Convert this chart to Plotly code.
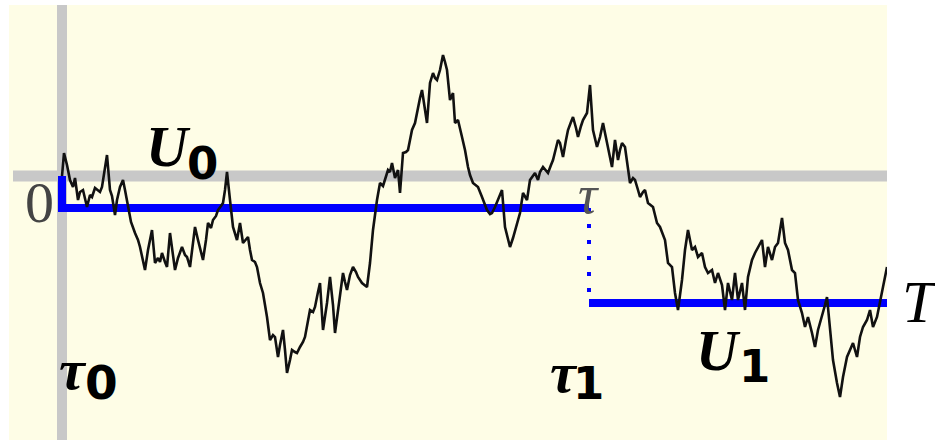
import plotly.graph_objects as go

# Sample path W(t): step index and value
steps = [
    0, 2, 5, 8, 11, 13, 16, 18, 21, 23,
    25, 28, 30, 33, 35, 38, 40, 43, 45, 48,
    50, 53, 55, 58, 61, 63, 66, 69, 73, 76,
    78, 81, 83, 86, 88, 90, 93, 96, 98, 100,
    103, 105, 108, 110, 113, 116, 120, 123, 125, 128,
    131, 133, 136, 138, 141, 144, 146, 149, 151, 154,
    156, 159, 161, 163, 165, 168, 171, 175, 178, 181,
    184, 186, 188, 190, 193, 195, 198, 201, 203, 205,
    208, 211, 213, 216, 218, 221, 223, 225, 228, 230,
    233, 235, 238, 241, 243, 246, 248, 251, 253, 256,
    258, 261, 263, 265, 268, 271, 273, 276, 278, 281,
    283, 285, 288, 291, 294, 296, 300, 303, 305, 308,
    311, 315, 318, 321, 323, 326, 328, 330, 333, 336,
    338, 341, 344, 346, 348, 350, 353, 356, 358, 360,
    363, 365, 368, 371, 373, 375, 378, 381, 383, 385,
    388, 391, 393, 396, 400, 403, 406, 408, 411, 414,
    416, 420, 423, 425, 428, 430, 433, 436, 438, 440,
    443, 446, 448, 451, 453, 456, 458, 461, 463, 465,
    468, 471, 473, 476, 478, 481, 484, 486, 489, 491,
    494, 496, 498, 501, 504, 506, 509, 511, 514, 516,
    519, 521, 525, 528, 531, 533, 535, 538, 541, 543,
    545, 548, 550, 553, 556, 558, 560, 563, 566, 568,
    571, 573, 576, 578, 581, 583, 586, 588, 591, 593,
    595, 598, 601, 603, 606, 610, 613, 616, 620, 623,
    626, 628, 630, 633, 636, 640, 643, 646, 650, 653,
    656, 660, 663, 666, 670, 673, 676, 680, 683, 686,
    690, 693, 696, 700, 703, 706, 710, 713, 716, 720,
    723, 726, 730, 733, 736, 740, 743, 746, 750, 753,
    756, 760, 763, 765, 768, 771, 775, 778, 781, 785,
    788, 791, 795, 798, 801, 805, 808, 811, 815, 818,
    821, 825,
]
values = [
    0.00, 0.23, 0.11, -0.04, -0.11, -0.02, -0.24, -0.16, -0.14, -0.22,
    -0.31, -0.19, -0.21, -0.12, -0.14, -0.16, -0.11, 0.06, 0.21, -0.14,
    -0.20, -0.39, -0.24, -0.11, -0.04, -0.14, -0.31, -0.46, -0.57, -0.64,
    -0.71, -0.86, -0.94, -0.74, -0.64, -0.54, -0.87, -0.82, -0.86, -0.77,
    -0.86, -0.91, -0.57, -0.74, -0.94, -0.82, -0.71, -0.79, -0.81, -0.91,
    -0.69, -0.51, -0.64, -0.71, -0.84, -0.64, -0.47, -0.52, -0.44, -0.40,
    -0.34, -0.30, -0.27, -0.14, 0.04, -0.24, -0.51, -0.64, -0.47, -0.67,
    -0.64, -0.61, -0.74, -0.84, -0.86, -0.91, -1.07, -1.17, -1.29, -1.41,
    -1.64, -1.59, -1.61, -1.81, -1.69, -1.54, -1.74, -1.97, -1.84, -1.74,
    -1.76, -1.77, -1.71, -1.66, -1.61, -1.44, -1.34, -1.36, -1.31, -1.16,
    -1.07, -1.54, -1.42, -1.27, -1.01, -1.29, -1.57, -1.34, -1.17, -0.97,
    -1.06, -1.14, -0.99, -0.91, -0.96, -1.01, -1.07, -1.10, -1.11, -0.87,
    -0.54, -0.24, -0.07, -0.10, -0.04, 0.06, 0.04, 0.13, -0.02, 0.06,
    -0.17, 0.23, 0.24, 0.26, 0.36, 0.46, 0.53, 0.69, 0.78, 0.86,
    0.66, 0.53, 0.93, 1.03, 0.98, 0.96, 1.06, 1.21, 1.14, 1.06,
    0.76, 0.83, 0.53, 0.56, 0.39, 0.26, 0.09, 0.01, -0.07, -0.09,
    -0.11, -0.21, -0.29, -0.34, -0.38, -0.37, -0.31, -0.24, -0.19, -0.14,
    -0.51, -0.64, -0.71, -0.62, -0.54, -0.44, -0.37, -0.17, -0.21, -0.24,
    -0.04, 0.00, 0.03, -0.04, 0.04, 0.09, 0.06, 0.03, 0.11, 0.16,
    0.28, 0.36, 0.33, 0.19, 0.36, 0.46, 0.54, 0.59, 0.48, 0.39,
    0.50, 0.56, 0.63, 0.91, 0.46, 0.36, 0.29, 0.39, 0.53, 0.43,
    0.33, 0.19, 0.09, 0.36, 0.16, 0.26, 0.33, 0.29, 0.06, -0.07,
    -0.02, -0.04, -0.14, -0.21, -0.16, -0.14, -0.27, -0.29, -0.31, -0.39,
    -0.47, -0.51, -0.59, -0.64, -0.87, -0.91, -1.17, -1.34, -1.04, -0.74,
    -0.54, -0.64, -0.74, -0.71, -0.81, -0.77, -0.91, -0.97, -0.94, -1.07,
    -0.97, -1.09, -1.34, -1.07, -1.24, -0.97, -1.24, -1.07, -1.34, -1.01,
    -0.84, -0.77, -0.71, -0.64, -0.91, -0.71, -0.84, -0.71, -0.67, -0.42,
    -0.67, -0.74, -0.94, -0.97, -1.24, -1.37, -1.51, -1.41, -1.57, -1.71,
    -1.54, -1.41, -1.29, -1.21, -1.54, -1.84, -2.07, -2.21, -2.01, -1.81,
    -1.74, -1.67, -1.81, -1.61, -1.51, -1.44, -1.34, -1.51, -1.41, -1.24,
    -1.11, -0.91,
]

# Levels and switching times
tau0 = 0
tau1 = 527
t_end = 825
u_levels = [-0.32, -1.27]

BG = "#FEFDE6"
GRAY = "#C8C8C8"
BLUE = "#0000FF"

fig = go.Figure()

# Piecewise-constant level U0 on [tau0, tau1), entered from 0 at tau0
fig.add_trace(go.Scatter(
    x=[tau0, tau0, tau1], y=[0, u_levels[0], u_levels[0]],
    mode="lines", line=dict(color=BLUE, width=8), hoverinfo="skip",
))
# Jump at tau1
fig.add_trace(go.Scatter(
    x=[tau1, tau1], y=[u_levels[0], u_levels[1]],
    mode="lines", line=dict(color=BLUE, width=4, dash="4px,12px"), hoverinfo="skip",
))
# Level U1 on [tau1, T]
fig.add_trace(go.Scatter(
    x=[tau1, t_end], y=[u_levels[1], u_levels[1]],
    mode="lines", line=dict(color=BLUE, width=8), hoverinfo="skip",
))
# The path itself
fig.add_trace(go.Scatter(
    x=steps, y=values, mode="lines",
    line=dict(color="#111111", width=2.6), hoverinfo="skip",
))

# Axes drawn as thick gray lines
fig.add_shape(type="line", xref="x", yref="paper", x0=0, x1=0, y0=0, y1=1,
              line=dict(color=GRAY, width=10), layer="below")
fig.add_shape(type="line", xref="x", yref="y", x0=-49, x1=t_end, y0=0, y1=0,
              line=dict(color=GRAY, width=11), layer="below")

serif = "Liberation Serif"
sans = "DejaVu Sans"


def label(x, y, text, family, size, color="#000000", xref="x"):
    fig.add_annotation(x=x, y=y, xref=xref, yref="y", text=text, showarrow=False,
                       xanchor="center", yanchor="middle",
                       font=dict(family=family, size=size, color=color))


label(-22.5, -0.265, "0", serif, 58, "#444444")
label(106, 0.30, "<b><i>U</i></b>", serif, 58)
label(140.5, 0.125, "<b>0</b>", sans, 45)
label(10.5, -1.935, "<b><i>τ</i></b>", serif, 58)
label(39, -2.065, "<b>0</b>", sans, 47)
label(502, -1.965, "<b><i>τ</i></b>", serif, 58)
label(526, -2.075, "<b>1</b>", sans, 45)
label(656, -1.74, "<b><i>U</i></b>", serif, 58)
label(692, -1.905, "<b>1</b>", sans, 45)
label(526.5, -0.19, "<i>τ</i>", serif, 54, "#555555")
# T sits just right of the plotting area
label(1.0376, -1.26, "<i>T</i>", serif, 60, xref="paper")

fig.update_layout(
    width=935, height=440,
    margin=dict(l=9, r=48, t=5, b=0),
    paper_bgcolor="#FFFFFF", plot_bgcolor=BG,
    showlegend=False,
    xaxis=dict(range=[-53, 825], visible=False, fixedrange=True),
    yaxis=dict(range=[-2.64, 1.71], visible=False, fixedrange=True),
)

fig.write_html("out.html")
